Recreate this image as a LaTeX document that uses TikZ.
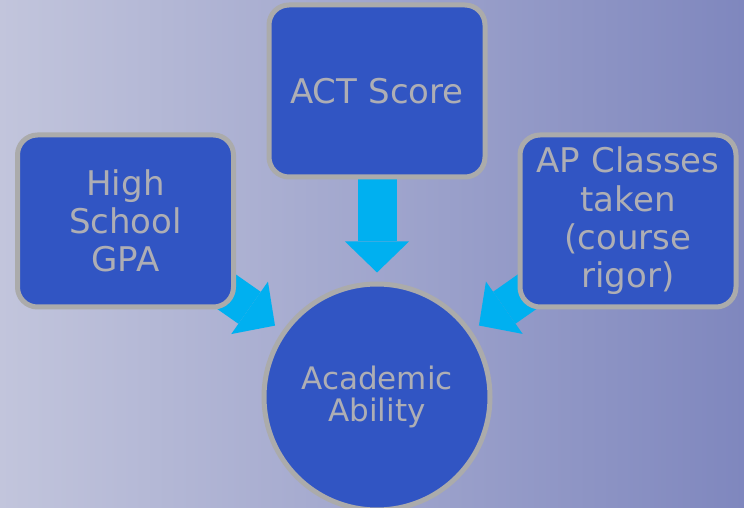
\documentclass[tikz,border=0pt]{standalone}
\usepackage{fontspec}
\setmainfont{DejaVu Sans}
\usepackage{tikz}
\usetikzlibrary{positioning}
\usetikzlibrary{arrows.meta,backgrounds}
\definecolor{boxblue}{HTML}{3155C3}
\definecolor{rimgray}{HTML}{ABABAB}
\definecolor{txtgray}{HTML}{AEAEB4}
\definecolor{arrowcyan}{HTML}{00B0F0}
\definecolor{bgleft}{HTML}{C2C5DC}
\definecolor{bgmid}{HTML}{ABAED0}
\definecolor{bgright}{HTML}{7F87BE}
\tikzset{feed/.style={draw, arrowcyan, line width=39pt, -{Triangle[width=64pt,length=31pt,line width=0pt]}, shorten >=9pt}}

\begin{document}
\begin{tikzpicture}[x=1pt,y=1pt]
\tikzstyle{block} = [rectangle, rounded corners=20pt, draw=rimgray, line width=5pt, fill=boxblue, text=txtgray, text width=200pt, align=center, inner sep=0pt, minimum width=216pt, minimum height=172pt, font=\fontsize{34}{38.3}\selectfont]
\tikzstyle{ability} = [circle, draw=rimgray, line width=5pt, fill=boxblue, text=txtgray, align=center, inner sep=0pt, minimum size=226pt, font=\fontsize{31}{32}\selectfont]
\useasboundingbox (0,0) rectangle (744,508);

% blocks
    \node [block] (act) at (377,417) {ACT Score};
    \node [block] (hsgpa) at (125.5,287) {High\\School\\GPA};
    \node [block] (apcls) at (628,287) {AP Classes\\taken\\(course\\rigor)};
    \node [ability, below=102pt of act] (acad) {Academic\\Ability};
% arrows
\begin{pgfonlayer}{background}
    \fill [left color=bgleft, middle color=bgmid, right color=bgright] (0,0) rectangle (744,508);
    \path [feed] (act.center) -- (acad);
    \path [feed] (hsgpa.center) -- (acad);
    \path [feed] (apcls.center) -- (acad);
\end{pgfonlayer}
\end{tikzpicture}
\end{document}
